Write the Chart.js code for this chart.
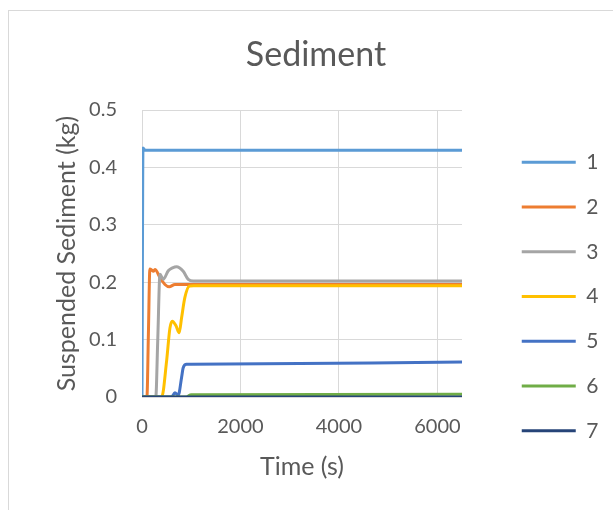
<!DOCTYPE html>
<html lang="en">
<head>
    <meta charset="UTF-8">
    <title>Sediment</title>
    <script src="https://cdn.jsdelivr.net/npm/chart.js"></script>
    <style>
        body { margin: 0; overflow: hidden; background: #fff; }
        #marco { position: absolute; left: 8px; top: 10px; width: 700px; height: 600px;
                 border-left: 1px solid #d9d9d9; border-top: 1px solid #d9d9d9; }
        #grafico { position: absolute; left: 0; top: 0; }
    </style>
</head>
<body>
    <div id="marco"></div>
    <canvas id="grafico" width="613" height="510"></canvas>

    <script>
        // series names and colours (Excel default palette)
        const seriesNames = ['1', '2', '3', '4', '5', '6', '7'];
        const seriesColors = ['#5B9BD5', '#ED7D31', '#A5A5A5', '#FFC000', '#4472C4', '#70AD47', '#264478'];

        // time (s) and suspended sediment (kg)
        const time1 = [0, 20, 60, 6500];
        const sed1  = [0, 0.434, 0.43, 0.43];

        const time2 = [0, 100, 130, 160, 200, 230, 263, 365, 466, 553, 669, 800, 6500];
        const sed2  = [0, 0, 0.11, 0.223, 0.221, 0.219, 0.222, 0.208, 0.196, 0.192, 0.196, 0.196, 0.196];

        const time3 = [0, 280, 320, 365, 432, 534, 620, 702, 837, 939, 1040, 6500];
        const sed3  = [0, 0, 0.1, 0.214, 0.205, 0.22, 0.225, 0.227, 0.219, 0.205, 0.202, 0.202];

        const time4 = [0, 400, 500, 567, 615, 690, 756, 804, 870, 960, 1050, 6500];
        const sed4  = [0, 0, 0.063, 0.12, 0.132, 0.124, 0.112, 0.138, 0.173, 0.193, 0.194, 0.194];

        const time5 = [0, 600, 669, 736, 804, 837, 905, 1000, 6500];
        const sed5  = [0, 0, 0.0075, 0.003, 0.034, 0.051, 0.057, 0.057, 0.061];

        const time6 = [0, 900, 1000, 6500];
        const sed6  = [0, 0, 0.004, 0.005];

        const time7 = [0, 6500];
        const sed7  = [0, 0];

        // axis ticks
        const xTickValues = [0, 2000, 4000, 6000];
        const xMax = 6500;
        const yTickValues = [0, 0.1, 0.2, 0.3, 0.4, 0.5];

        const allTimes = [time1, time2, time3, time4, time5, time6, time7];
        const allSeds = [sed1, sed2, sed3, sed4, sed5, sed6, sed7];

        const textColor = '#595959';
        const fontFamily = 'Lato, "Open Sans", sans-serif';

        const datasets = seriesNames.map((name, i) => ({
            label: name,
            data: allTimes[i].map((t, k) => ({ x: t, y: allSeds[i][k] })),
            borderColor: seriesColors[i],
            backgroundColor: seriesColors[i],
            borderWidth: 3,
            borderCapStyle: 'round',
            borderJoinStyle: 'round',
            pointRadius: 0,
            cubicInterpolationMode: 'monotone',
            order: seriesNames.length - i   // later series drawn on top, as in Excel
        }));

        // Excel centres the title on the whole chart box and puts the legend further right
        const posicionBloques = {
            id: 'posicionBloques',
            afterLayout(chart) {
                const tb = chart.titleBlock;
                const dx = 316 - (tb.left + tb.right) / 2;
                tb.left += dx; tb.right += dx;

                const lg = chart.legend;
                const w = lg.width, h = lg.height;
                lg.left = 498; lg.right = lg.left + w;
                lg.top = 128; lg.bottom = lg.top + h;
            }
        };

        new Chart(document.getElementById('grafico'), {
            type: 'line',
            data: { datasets: datasets },
            plugins: [posicionBloques],
            options: {
                responsive: false,
                animation: false,
                layout: { padding: { left: 10, top: 10, right: 51, bottom: 28 } },
                scales: {
                    x: {
                        type: 'linear',
                        min: xTickValues[0],
                        max: xMax,
                        border: { display: false },
                        grid: { color: '#d9d9d9', drawTicks: false },
                        afterBuildTicks: axis => { axis.ticks = xTickValues.map(v => ({ value: v })); },
                        ticks: {
                            padding: 18,
                            color: textColor,
                            font: { family: fontFamily, size: 20 },
                            callback: v => String(v)
                        },
                        title: {
                            display: true,
                            text: 'Time (s)',
                            color: textColor,
                            padding: 0,
                            font: { family: fontFamily, size: 25 }
                        },
                        afterFit: axis => { axis.height = 85; }
                    },
                    y: {
                        min: yTickValues[0],
                        max: yTickValues[yTickValues.length - 1],
                        border: { display: false },
                        grid: { color: '#d9d9d9', drawTicks: false },
                        afterBuildTicks: axis => { axis.ticks = yTickValues.map(v => ({ value: v })); },
                        ticks: {
                            padding: 25,
                            color: textColor,
                            font: { family: fontFamily, size: 20 },
                            callback: v => String(v)
                        },
                        title: {
                            display: true,
                            text: 'Suspended Sediment (kg)',
                            color: textColor,
                            padding: { top: 42, bottom: 0 },
                            font: { family: fontFamily, size: 25 }
                        },
                        afterFit: axis => { axis.width = 132; }
                    }
                },
                plugins: {
                    title: {
                        display: true,
                        text: 'Sediment',
                        color: textColor,
                        padding: { top: 24.6, bottom: 34.6 },
                        font: { family: fontFamily, size: 34, weight: 'normal' }
                    },
                    legend: {
                        position: 'right',
                        align: 'start',
                        maxWidth: 100,
                        labels: {
                            usePointStyle: true,
                            pointStyle: 'line',
                            pointStyleWidth: 54,
                            padding: 23.75,
                            color: textColor,
                            font: { family: fontFamily, size: 21 },
                            sort: (a, b) => a.datasetIndex - b.datasetIndex
                        }
                    },
                    tooltip: { enabled: false }
                }
            }
        });
    </script>
</body>
</html>
